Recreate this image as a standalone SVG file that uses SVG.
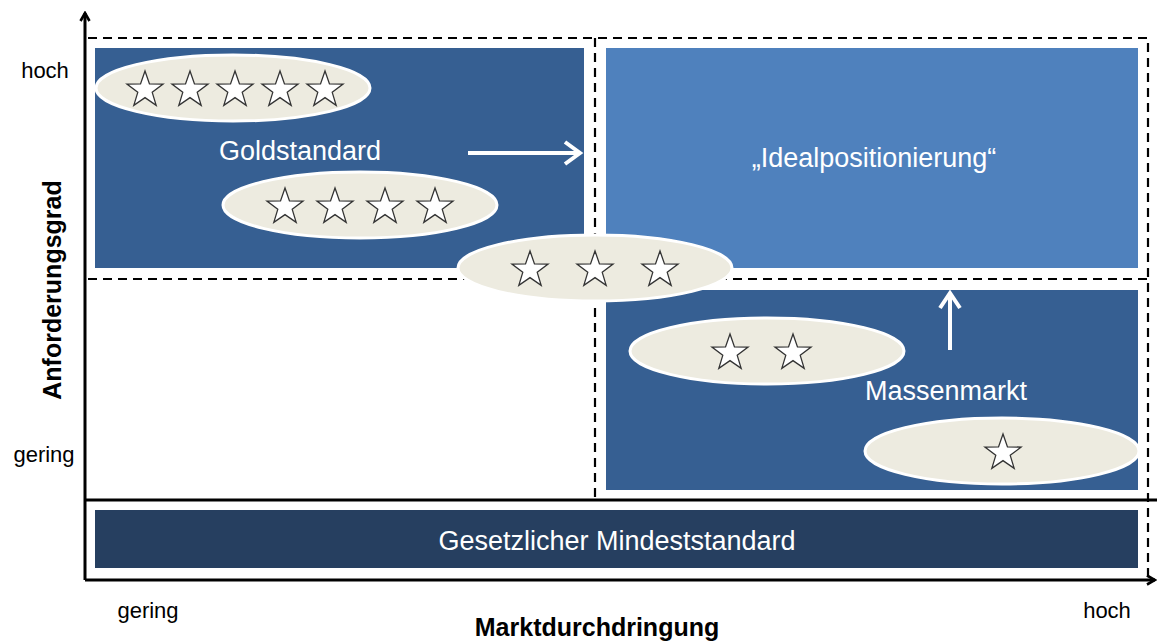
<svg xmlns="http://www.w3.org/2000/svg" xmlns:xlink="http://www.w3.org/1999/xlink" width="1157" height="643" viewBox="0 0 1157 643">
<style>
.dark{fill:#365F92}
.light{fill:#4F81BD}
.band{fill:#263F60}
.ell{fill:#EDEBE0;stroke:#FFFFFF;stroke-width:3}
.star{fill:#FFFFFF;stroke:#333333;stroke-width:1.3;stroke-linejoin:miter}
.dash{fill:none;stroke:#000;stroke-width:2.2;stroke-dasharray:9,6}
.wt{font-family:"Liberation Sans",Arial,sans-serif;fill:#FFFFFF;font-size:27px;text-anchor:middle}
.lab{font-family:"Liberation Sans",Arial,sans-serif;fill:#000;font-size:22px;text-anchor:middle}
.ax{font-family:"Liberation Sans",Arial,sans-serif;fill:#000;font-size:25px;font-weight:bold;text-anchor:middle}
</style>
<defs>
<path id="st" d="M0,-19 L4.47,-6.16 L18.07,-5.87 L7.22,2.35 L11.17,15.37 L0,7.6 L-11.17,15.37 L-7.22,2.35 L-18.07,-5.87 L-4.47,-6.16 Z"/>
<marker id="ah" viewBox="0 0 12 12" refX="10" refY="6" markerWidth="12" markerHeight="12" orient="auto" markerUnits="userSpaceOnUse">
<path d="M2,1.5 L10,6 L2,10.5" fill="none" stroke="#000" stroke-width="2.6"/>
</marker>
</defs>
<rect width="1157" height="643" fill="#FFFFFF"/>

<g id="quadrants">
<rect id="goldstandard-area" class="dark" x="95" y="48" width="489" height="220"/>
<rect id="ideal-area" class="light" x="606" y="48" width="532" height="220"/>
<rect id="massenmarkt-area" class="dark" x="606" y="290" width="532" height="200"/>
</g>

<g id="gridlines">
<path class="dash" d="M88,38 H1148 V580"/>
<path class="dash" d="M88,279 H1148"/>
<path class="dash" d="M595,38 V500"/>
</g>

<g id="mindeststandard">
<rect class="band" x="95" y="510" width="1043" height="58"/>
<text class="wt" x="617" y="550">Gesetzlicher Mindeststandard</text>
</g>

<g id="axes">
<line x1="85" y1="580" x2="85" y2="13" stroke="#000" stroke-width="3" marker-end="url(#ah)"/>
<line x1="85" y1="580" x2="1155" y2="580" stroke="#000" stroke-width="3" marker-end="url(#ah)"/>
<line x1="85" y1="500" x2="1157" y2="500" stroke="#000" stroke-width="3"/>
</g>

<g id="labels">
<text class="wt" x="300" y="160">Goldstandard</text>
<text class="wt" x="874" y="167">„Idealpositionierung“</text>
<text class="wt" x="946" y="400">Massenmarkt</text>
<text class="lab" x="45" y="78">hoch</text>
<text class="lab" x="44" y="462">gering</text>
<text class="lab" x="148" y="618">gering</text>
<text class="lab" x="1107" y="618">hoch</text>
<text class="ax" x="597" y="636">Marktdurchdringung</text>
<text class="ax" transform="translate(61,290) rotate(-90)">Anforderungsgrad</text>
</g>

<g id="connectors">
<line x1="468" y1="153" x2="578" y2="153" stroke="#FFF" stroke-width="4"/>
<path d="M565,142 L580,153 L565,164" fill="none" stroke="#FFF" stroke-width="4"/>
<line x1="950" y1="350" x2="950" y2="295" stroke="#FFF" stroke-width="4"/>
<path d="M940,308 L950,293 L960,308" fill="none" stroke="#FFF" stroke-width="4"/>
</g>

<g id="five-stars">
<ellipse class="ell" cx="233" cy="88" rx="137" ry="33"/>
<use href="#st" class="star" x="145" y="90"/>
<use href="#st" class="star" x="190" y="90"/>
<use href="#st" class="star" x="235" y="90"/>
<use href="#st" class="star" x="280" y="90"/>
<use href="#st" class="star" x="325" y="90"/>
</g>
<g id="four-stars">
<ellipse class="ell" cx="360" cy="205" rx="137" ry="33"/>
<use href="#st" class="star" x="285" y="207"/>
<use href="#st" class="star" x="335" y="207"/>
<use href="#st" class="star" x="385" y="207"/>
<use href="#st" class="star" x="435" y="207"/>
</g>
<g id="three-stars">
<ellipse class="ell" cx="595" cy="268" rx="137" ry="33"/>
<use href="#st" class="star" x="530" y="270"/>
<use href="#st" class="star" x="595" y="270"/>
<use href="#st" class="star" x="660" y="270"/>
</g>
<g id="two-stars">
<ellipse class="ell" cx="767" cy="351" rx="137" ry="33"/>
<use href="#st" class="star" x="730" y="353"/>
<use href="#st" class="star" x="793" y="353"/>
</g>
<g id="one-star">
<ellipse class="ell" cx="1002" cy="451" rx="137" ry="33"/>
<use href="#st" class="star" x="1003" y="453"/>
</g>
</svg>
